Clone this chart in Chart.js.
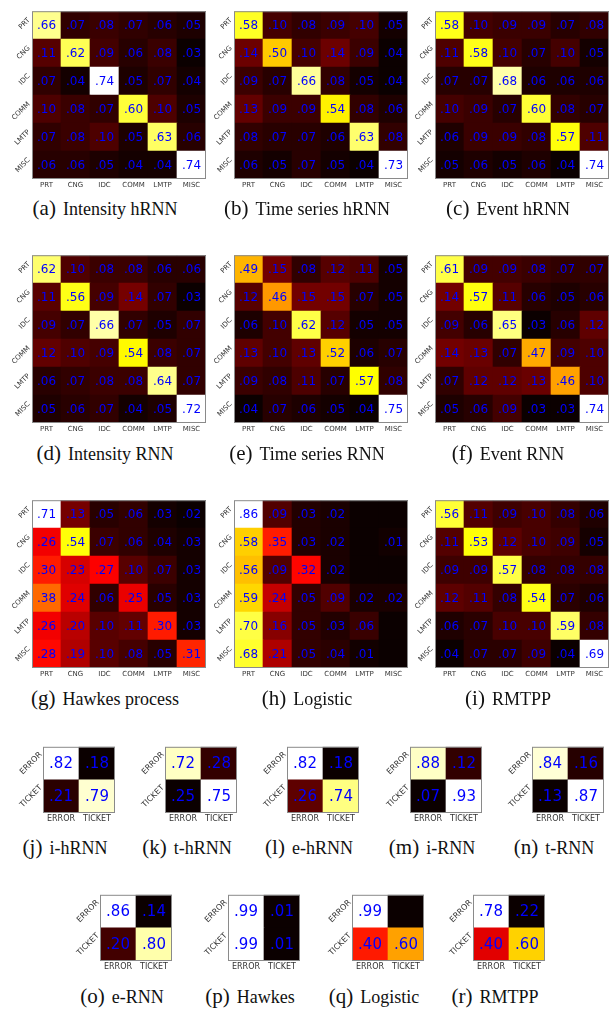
<!DOCTYPE html>
<html>
<head>
<meta charset="utf-8">
<script src="https://cdn.jsdelivr.net/npm/chart.js@4.4.0/dist/chart.umd.min.js"></script>
<style>
  body { margin: 0; background: #fff; }
  #fig { position: relative; width: 616px; height: 1013px; overflow: hidden; }
  #fig canvas { position: absolute; }
  .cap { position: absolute; text-align: center; font-family: 'Liberation Serif', 'Times New Roman', serif; color: #111; line-height: 26px; white-space: nowrap; }
  .cap b { font-weight: normal; font-size: 21px; margin-right: 7px; }
  .cap span { font-size: 18px; }
</style>
</head>
<body>
<div id="fig"></div>
<script>
// class names
const classes6 = ['PRT', 'CNG', 'IDC', 'COMM', 'LMTP', 'MISC'];
const classes2 = ['ERROR', 'TICKET'];

// 6-class confusion matrices (rows = true class, cols = predicted)
const intensityHRNN = [
    [.66, .07, .08, .07, .06, .05],
    [.11, .62, .09, .06, .08, .03],
    [.07, .04, .74, .05, .07, .04],
    [.10, .08, .07, .60, .10, .05],
    [.07, .08, .10, .05, .63, .06],
    [.06, .06, .05, .04, .04, .74]
];
const timeSeriesHRNN = [
    [.58, .10, .08, .09, .10, .05],
    [.14, .50, .10, .14, .09, .04],
    [.09, .07, .66, .08, .05, .04],
    [.13, .09, .09, .54, .08, .06],
    [.08, .07, .07, .06, .63, .08],
    [.06, .05, .07, .05, .04, .73]
];
const eventHRNN = [
    [.58, .10, .09, .09, .07, .08],
    [.11, .58, .10, .07, .10, .05],
    [.07, .07, .68, .06, .06, .06],
    [.10, .09, .07, .60, .08, .07],
    [.06, .09, .09, .08, .57, .11],
    [.05, .06, .05, .06, .04, .74]
];
const intensityRNN = [
    [.62, .10, .08, .08, .06, .06],
    [.11, .56, .09, .14, .07, .03],
    [.09, .07, .66, .07, .05, .07],
    [.12, .10, .09, .54, .08, .07],
    [.06, .07, .08, .08, .64, .07],
    [.05, .06, .07, .04, .05, .72]
];
const timeSeriesRNN = [
    [.49, .15, .08, .12, .11, .05],
    [.12, .46, .15, .15, .07, .05],
    [.06, .10, .62, .12, .05, .05],
    [.13, .10, .13, .52, .06, .07],
    [.09, .08, .11, .07, .57, .08],
    [.04, .07, .06, .05, .04, .75]
];
const eventRNN = [
    [.61, .09, .09, .08, .07, .07],
    [.14, .57, .11, .06, .05, .06],
    [.09, .06, .65, .03, .06, .12],
    [.14, .13, .07, .47, .09, .10],
    [.07, .12, .12, .13, .46, .10],
    [.05, .06, .09, .03, .03, .74]
];
const hawkesProcess = [
    [.71, .13, .05, .06, .03, .02],
    [.26, .54, .07, .06, .04, .03],
    [.30, .23, .27, .10, .07, .03],
    [.38, .24, .06, .25, .05, .03],
    [.26, .20, .10, .11, .30, .03],
    [.28, .19, .10, .08, .05, .31]
];
const logistic = [
    [.86, .09, .03, .02, 0, 0],
    [.58, .35, .03, .02, 0, .01],
    [.56, .09, .32, .02, 0, 0],
    [.59, .24, .05, .09, .02, .02],
    [.70, .16, .05, .03, .06, 0],
    [.68, .21, .05, .04, .01, 0]
];
const rmtpp = [
    [.56, .11, .09, .10, .08, .06],
    [.11, .53, .12, .10, .09, .05],
    [.09, .09, .57, .08, .08, .08],
    [.12, .11, .08, .54, .07, .06],
    [.06, .07, .10, .10, .59, .08],
    [.04, .07, .07, .09, .04, .69]
];

// 2-class matrices
const iHRNN = [[.82, .18], [.21, .79]];
const tHRNN = [[.72, .28], [.25, .75]];
const eHRNN = [[.82, .18], [.26, .74]];
const iRNN = [[.88, .12], [.07, .93]];
const tRNN = [[.84, .16], [.13, .87]];
const eRNN = [[.86, .14], [.20, .80]];
const hawkes2 = [[.99, .01], [.99, .01]];
const logistic2 = [[.99, 0], [.40, .60]];
const rmtpp2 = [[.78, .22], [.40, .60]];

const bigPanels = [
    ['(a)', 'Intensity hRNN', intensityHRNN],
    ['(b)', 'Time series hRNN', timeSeriesHRNN],
    ['(c)', 'Event hRNN', eventHRNN],
    ['(d)', 'Intensity RNN', intensityRNN],
    ['(e)', 'Time series RNN', timeSeriesRNN],
    ['(f)', 'Event RNN', eventRNN],
    ['(g)', 'Hawkes process', hawkesProcess],
    ['(h)', 'Logistic', logistic],
    ['(i)', 'RMTPP', rmtpp]
];
const smallPanels = [
    ['(j)', 'i-hRNN', iHRNN],
    ['(k)', 't-hRNN', tHRNN],
    ['(l)', 'e-hRNN', eHRNN],
    ['(m)', 'i-RNN', iRNN],
    ['(n)', 't-RNN', tRNN],
    ['(o)', 'e-RNN', eRNN],
    ['(p)', 'Hawkes', hawkes2],
    ['(q)', 'Logistic', logistic2],
    ['(r)', 'RMTPP', rmtpp2]
];

// layout (matrix top-left corners, caption centre lines)
const bigLeft = [32, 234, 435];
const bigTop = [5, 249, 494];
const bigCapY = [208, 453, 698];
const smallLeft = [43, 165, 287, 410, 532, 100, 228, 352, 473];
const smallTop = [741, 741, 741, 741, 741, 889, 889, 889, 889];
const smallCapY = [847, 847, 847, 847, 847, 996, 996, 996, 996];

const fig = document.getElementById('fig');

// matplotlib 'hot'
function hot(t) {
    t = Math.max(0, Math.min(1, t));
    const r = t < 0.365079 ? 0.0416 + t / 0.365079 * (1 - 0.0416) : 1;
    const g = t < 0.365079 ? 0 : (t < 0.746032 ? (t - 0.365079) / (0.746032 - 0.365079) : 1);
    const b = t < 0.746032 ? 0 : (t - 0.746032) / (1 - 0.746032);
    return 'rgb(' + Math.round(r * 255) + ',' + Math.round(g * 255) + ',' + Math.round(b * 255) + ')';
}

function fmt(v) {
    return '.' + String(Math.round(v * 100)).padStart(2, '0');
}

const cellText = {
    id: 'cellText',
    afterDatasetsDraw(chart, args, opts) {
        const ctx = chart.ctx;
        ctx.save();
        ctx.font = opts.size + 'px "DejaVu Sans"';
        ctx.fillStyle = '#0000ff';
        ctx.textAlign = 'center';
        ctx.textBaseline = 'middle';
        chart.data.datasets.forEach((ds, i) => {
            chart.getDatasetMeta(i).data.forEach((bar, j) => {
                const v = ds.values[j];
                if (!v) return;
                const p = bar.getProps(['x', 'y', 'base'], true);
                ctx.fillText(fmt(v), p.x, (p.y + p.base) / 2 + 1);
            });
        });
        const a = chart.chartArea;
        ctx.strokeStyle = '#8a8a8a';
        ctx.lineWidth = 1;
        ctx.strokeRect(a.left + 0.5, a.top + 0.5, a.width - 1, a.height - 1);
        ctx.restore();
    }
};

function drawPanel(panel, labels, left, top, size, textSize, tickSize, capY, small) {
    const [tag, name, m] = panel;
    const W = 30 + size + 2, H = 1 + size + 16;
    const c = document.createElement('canvas');
    c.width = W;
    c.height = H;
    c.style.left = (left - 30) + 'px';
    c.style.top = (top - 1) + 'px';
    fig.appendChild(c);

    const flat = m.flat();
    const lo = Math.min(...flat), hi = Math.max(...flat);
    // stacked bars build up from the bottom, so the last row goes first
    const datasets = m.slice().reverse().map(row => ({
        data: row.map(() => 1),
        values: row,
        backgroundColor: row.map(v => hot((v - lo) / (hi - lo))),
        borderWidth: 0,
        categoryPercentage: 1,
        barPercentage: 1
    }));

    const tickFont = { family: 'DejaVu Sans', size: tickSize };
    new Chart(c, {
        type: 'bar',
        data: { labels: labels, datasets: datasets },
        options: {
            responsive: false,
            maintainAspectRatio: false,
            devicePixelRatio: 1,
            animation: false,
            layout: { padding: { top: 1, right: 2, left: 0, bottom: 0 } },
            plugins: {
                legend: { display: false },
                tooltip: { enabled: false },
                cellText: { size: textSize }
            },
            scales: {
                x: {
                    stacked: true,
                    grid: { display: false, drawTicks: false },
                    border: { display: false },
                    ticks: { font: tickFont, color: '#333', padding: small ? 1 : 2, maxRotation: 0, autoSkip: false },
                    afterFit: s => { s.height = 16; }
                },
                y: { stacked: true, display: false, min: 0, max: labels.length },
                rows: {
                    type: 'category',
                    labels: labels,
                    position: 'left',
                    offset: true,
                    grid: { display: false, drawTicks: false },
                    border: { display: false },
                    ticks: {
                        font: tickFont, color: '#333',
                        padding: small ? 2 : 3,
                        labelOffset: small ? -10 : -6,
                        minRotation: 45, maxRotation: 45, autoSkip: false
                    },
                    afterFit: s => { s.width = 30; }
                }
            }
        },
        plugins: [cellText]
    });

    const cap = document.createElement('div');
    cap.className = 'cap';
    cap.style.left = (left - 30) + 'px';
    cap.style.width = W + 'px';
    cap.style.top = (capY - 13) + 'px';
    cap.innerHTML = '<b>' + tag + '</b><span>' + name + '</span>';
    fig.appendChild(cap);
}

bigPanels.forEach((p, i) => {
    drawPanel(p, classes6, bigLeft[i % 3], bigTop[Math.floor(i / 3)], 174, 12, 7, bigCapY[Math.floor(i / 3)], false);
});
smallPanels.forEach((p, i) => {
    drawPanel(p, classes2, smallLeft[i], smallTop[i], 72, 15, 8, smallCapY[i], true);
});
</script>
</body>
</html>
